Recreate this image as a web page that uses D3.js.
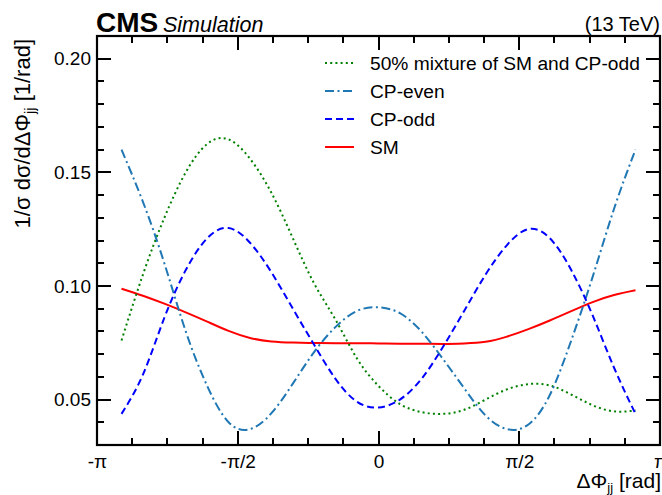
<!DOCTYPE html>
<html>
<head>
<meta charset="utf-8">
<script src="https://cdn.jsdelivr.net/npm/d3@7"></script>
<style>
  html, body { margin: 0; padding: 0; background: #fff; }
  svg { display: block; }
  text { font-family: "Liberation Sans", Arial, Helvetica, sans-serif; fill: #000; }
</style>
</head>
<body>
<svg id="chart" width="662" height="495"></svg>
<script>
// ---------------- data ----------------
const phi = [-2.868, -2.629, -2.390, -2.151, -1.912, -1.673, -1.434, -1.195, -0.956, -0.717, -0.478, -0.239,
             0, 0.239, 0.478, 0.717, 0.956, 1.195, 1.434, 1.673, 1.912, 2.151, 2.390, 2.629, 2.868];
const mixture = [0.0760, 0.105, 0.130, 0.150, 0.1625, 0.1645, 0.156, 0.141, 0.121, 0.101, 0.085, 0.068,
                 0.056, 0.048, 0.0445, 0.0437, 0.0455, 0.050, 0.0545, 0.0568, 0.0562, 0.0522, 0.0475, 0.0448, 0.0452];
const cpEven = [0.160, 0.137, 0.110, 0.080, 0.056, 0.040, 0.037, 0.044, 0.057, 0.071, 0.082, 0.089,
                0.0906, 0.088, 0.080, 0.068, 0.055, 0.043, 0.037, 0.039, 0.052, 0.076, 0.104, 0.134, 0.160];
const cpOdd = [0.0437, 0.061, 0.086, 0.107, 0.121, 0.1255, 0.119, 0.106, 0.090, 0.074, 0.059, 0.049,
               0.0465, 0.050, 0.059, 0.073, 0.089, 0.105, 0.118, 0.1250, 0.121, 0.107, 0.087, 0.064, 0.0437];
const sm = [0.0988, 0.0957, 0.0922, 0.0884, 0.0843, 0.0802, 0.0771, 0.0756, 0.0751, 0.0749, 0.0748, 0.0748,
            0.0747, 0.0746, 0.0746, 0.0745, 0.0747, 0.0754, 0.0777, 0.0810, 0.0848, 0.0889, 0.0929, 0.0960, 0.0981];

const seriesNames = ["50% mixture of SM and CP-odd", "CP-even", "CP-odd", "SM"];
const xTickValues = [-Math.PI, -Math.PI / 2, 0, Math.PI / 2, Math.PI];
const xTickLabels = ["-\u03C0", "-\u03C0/2", "0", "\u03C0/2", "\u03C0"];
const yTickValues = [0.05, 0.10, 0.15, 0.20];
const yTickLabels = ["0.05", "0.10", "0.15", "0.20"];

// ---------------- layout ----------------
const svg = d3.select("#chart");
const L = 97, R = 660, T = 36, B = 445;
const x = d3.scaleLinear().domain([-Math.PI, Math.PI]).range([L, R]);
const y = d3.scaleLinear().domain([0.03, 0.21]).range([B, T]);

const styles = [
  { data: mixture, color: "#008000", dash: "2,3.2", width: 2 },
  { data: cpEven, color: "#1f77b4", dash: "9,3.5,2,3.5", width: 2 },
  { data: cpOdd, color: "#0000ff", dash: "7,4", width: 2 },
  { data: sm, color: "#ff0000", dash: null, width: 2 }
];

const line = d3.line().curve(d3.curveNatural);

const gLines = svg.append("g");
[3, 0, 1, 2].forEach(i => {
  const s = styles[i];
  gLines.append("path")
    .attr("d", line(phi.map((p, k) => [x(p), y(s.data[k])])))
    .attr("fill", "none")
    .attr("stroke", s.color)
    .attr("stroke-width", s.width)
    .attr("stroke-dasharray", s.dash);
});

// ---------------- ticks (inward, on all four sides), drawn as thin filled bars ----------------
const minorX = d3.range(-8, 9).map(k => k * Math.PI / 8);
const minorY = d3.range(3, 22).map(k => k / 100);
const fontSize = 19;
const gT = svg.append("g").attr("fill", "#000");
function xTicks(vals, len) {
  vals.forEach(v => {
    const px = Math.round(x(v));
    gT.append("rect").attr("x", px - 1).attr("y", B - len).attr("width", 2).attr("height", len);
    gT.append("rect").attr("x", px - 1).attr("y", T).attr("width", 2).attr("height", len);
  });
}
function yTicks(vals, len) {
  vals.forEach(v => {
    const py = Math.round(y(v));
    gT.append("rect").attr("x", L).attr("y", py - 1).attr("width", len).attr("height", 2);
    gT.append("rect").attr("x", R - len).attr("y", py - 1).attr("width", len).attr("height", 2);
  });
}
xTicks(minorX, 7);
xTicks(xTickValues, 14);
yTicks(minorY, 7);
yTicks(yTickValues, 14);

// tick labels through d3 axes
svg.append("g").attr("transform", `translate(0,${B})`)
  .call(d3.axisBottom(x).tickValues(xTickValues).tickSize(0).tickPadding(10)
        .tickFormat((d, i) => xTickLabels[i]))
  .call(g => g.select(".domain").remove())
  .call(g => g.selectAll("text").attr("font-size", fontSize).attr("font-family", "Liberation Sans, Arial, sans-serif").attr("fill", "#000"));
svg.append("g").attr("transform", `translate(${L},0)`)
  .call(d3.axisLeft(y).tickValues(yTickValues).tickSize(0).tickPadding(6)
        .tickFormat((d, i) => yTickLabels[i]))
  .call(g => g.select(".domain").remove())
  .call(g => g.selectAll("text").attr("font-size", fontSize).attr("font-family", "Liberation Sans, Arial, sans-serif").attr("fill", "#000"));

// frame
svg.append("rect").attr("x", L).attr("y", T).attr("width", R - L).attr("height", B - T)
  .attr("fill", "none").attr("stroke", "#000").attr("stroke-width", 2.2);

// ---------------- legend ----------------
const legend = svg.append("g");
seriesNames.forEach((name, i) => {
  const s = styles[i];
  const ly = 63 + i * 28;
  legend.append("line").attr("x1", 325).attr("x2", 354).attr("y1", ly).attr("y2", ly)
    .attr("stroke", s.color).attr("stroke-width", s.width).attr("stroke-dasharray", s.dash);
  legend.append("text").attr("x", 370).attr("y", ly + 7).attr("font-size", 19.2).text(name);
});

// ---------------- titles ----------------
svg.append("text").attr("x", 96).attr("y", 31.5).attr("font-size", 28).attr("font-weight", "bold").text("CMS");
svg.append("text").attr("x", 163).attr("y", 31.5).attr("font-size", 21.5).attr("font-style", "italic").text("Simulation");
svg.append("text").attr("x", 660).attr("y", 31).attr("font-size", 20).attr("text-anchor", "end").text("(13 TeV)");

// x title
const xt = svg.append("text").attr("x", 661).attr("y", 488).attr("font-size", 21).attr("text-anchor", "end");
xt.append("tspan").text("\u0394\u03A6");
xt.append("tspan").attr("font-size", 13).attr("dy", 3.5).text("jj");
xt.append("tspan").attr("dy", -3.5).text(" [rad]");

// y title
const yt = svg.append("text").attr("transform", "translate(30,39) rotate(-90)")
  .attr("font-size", 22).attr("text-anchor", "end");
yt.append("tspan").text("1/\u03C3 d\u03C3/d\u0394\u03A6");
yt.append("tspan").attr("font-size", 14.5).attr("dy", 5).text("jj");
yt.append("tspan").attr("dy", -5).text(" [1/rad]");
</script>
</body>
</html>
